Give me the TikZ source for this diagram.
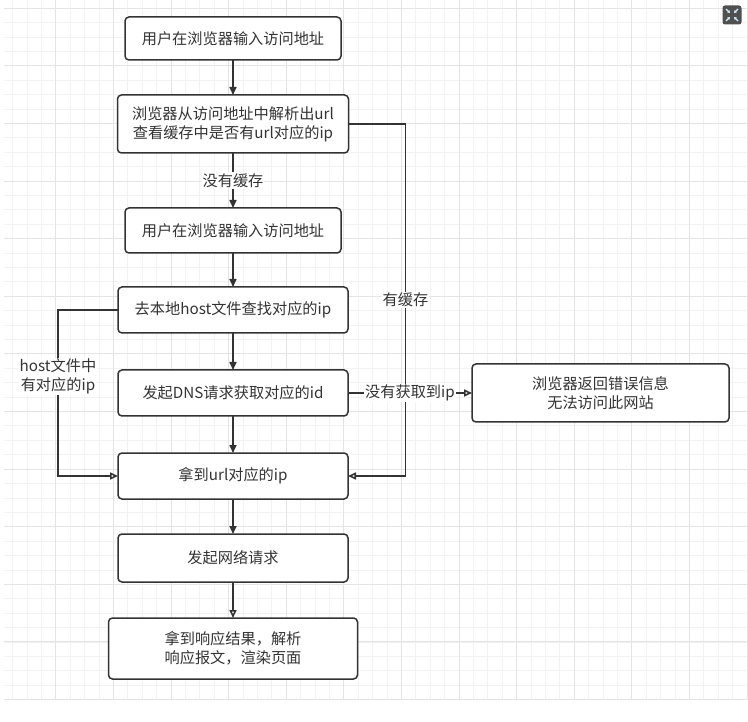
\documentclass[tikz,border=0pt]{standalone}
\usepackage{fontspec}
\setmainfont{Noto Sans CJK SC}
\usetikzlibrary{arrows.meta,positioning}
\definecolor{ink}{HTML}{333333}
\definecolor{gridminor}{HTML}{F2F2F2}
\definecolor{gridmajor}{HTML}{E4E4E4}
\definecolor{iconbg}{HTML}{505050}

\begin{document}
\begin{tikzpicture}[
  x=1pt,y=-1pt,
  font=\fontsize{15.2}{19}\selectfont,
  block/.style={rectangle,rounded corners=4pt,draw=ink,fill=white,line width=1.5pt,outer sep=0pt,align=center,text=ink,minimum width=230pt,minimum height=46pt,inner sep=2pt},
  lbl/.style={fill=white,text=ink,inner sep=1pt},
  line/.style={draw=ink,line width=1.6pt},
  >={Triangle[length=8pt,width=7pt]},
  hollow/.style={-{Triangle[open,length=8pt,width=7pt]}}
]
\useasboundingbox (0,0) rectangle (748,722);

% grid of the canvas
\begin{scope}
  \clip (4,0) rectangle (748,700);
  \foreach \i in {0,...,52} {
    \draw[gridminor,line width=0.8pt] ({-1.8+14.4*\i},0) -- ({-1.8+14.4*\i},700);
  }
  \foreach \i in {0,...,50} {
    \draw[gridminor,line width=0.8pt] (0,{-6.1+14.4*\i}) -- (748,{-6.1+14.4*\i});
  }
  \foreach \i in {0,...,13} {
    \draw[gridmajor,line width=0.9pt] ({-1.8+57.6*\i},0) -- ({-1.8+57.6*\i},700);
    \draw[gridmajor,line width=0.9pt] (0,{8.3+57.6*\i}) -- (748,{8.3+57.6*\i});
  }
\end{scope}

\node[fill=iconbg,rounded corners=2.5pt,minimum size=19pt,inner sep=0pt] (icon) at (732,15) {};
\foreach \sx/\sy in {1/1,1/-1,-1/1,-1/-1}
  \draw[white!80!cyan,line width=1.3pt,-{Triangle[length=2.5pt,width=3pt]}] ([shift={(\sx*6pt,\sy*6pt)}]icon.center) -- ++(-\sx*4pt,-\sy*4pt);

\node[block,minimum width=216pt,minimum height=43pt] (input) at (233,38.5) {用户在浏览器输入访问地址};
\node[block,minimum width=231pt,minimum height=58pt,below=35pt of input] (parse) {浏览器从访问地址中解析出url\\查看缓存中是否有url对应的ip};
\node[block,minimum width=216pt,minimum height=45pt,below=55pt of parse] (input2) {用户在浏览器输入访问地址};
\node[block,below=34pt of input2] (local) {去本地host文件查找对应的ip};
\node[block,below=37pt of local] (dns) {发起DNS请求获取对应的id};
\node[block,below=37pt of dns] (geturl) {拿到url对应的ip};
\node[block,minimum height=48pt,below=35pt of geturl] (request) {发起网络请求};
\node[block,minimum width=249pt,minimum height=61pt,below=36pt of request] (render) {拿到响应结果，解析\\响应报文，渲染页面};
\node[block,minimum width=257pt,minimum height=58pt,right=124pt of dns] (error) {浏览器返回错误信息\\无法访问此网站};

\draw[line,->] (input) -- (parse);
\draw[line,->] (parse) -- node[lbl]{没有缓存} (input2);
\draw[line,->] (input2) -- (local);
\draw[line,->] (local) -- (dns);
\draw[line,->] (dns) -- (geturl);
\draw[line,->] (geturl) -- (request);
\draw[line,hollow] (request) -- (render);
\draw[line,hollow] (parse.east) -- ++(57pt,0) |- node[lbl,pos=0.25]{有缓存} (geturl.east);
\draw[line,hollow] (local.west) -- ++(-60pt,0) |- node[lbl,pos=0.2,align=center]{host文件中\\有对应的ip} (geturl.west);
\draw[line,hollow] (dns) -- node[lbl]{没有获取到ip} (error);
\end{tikzpicture}
\end{document}
